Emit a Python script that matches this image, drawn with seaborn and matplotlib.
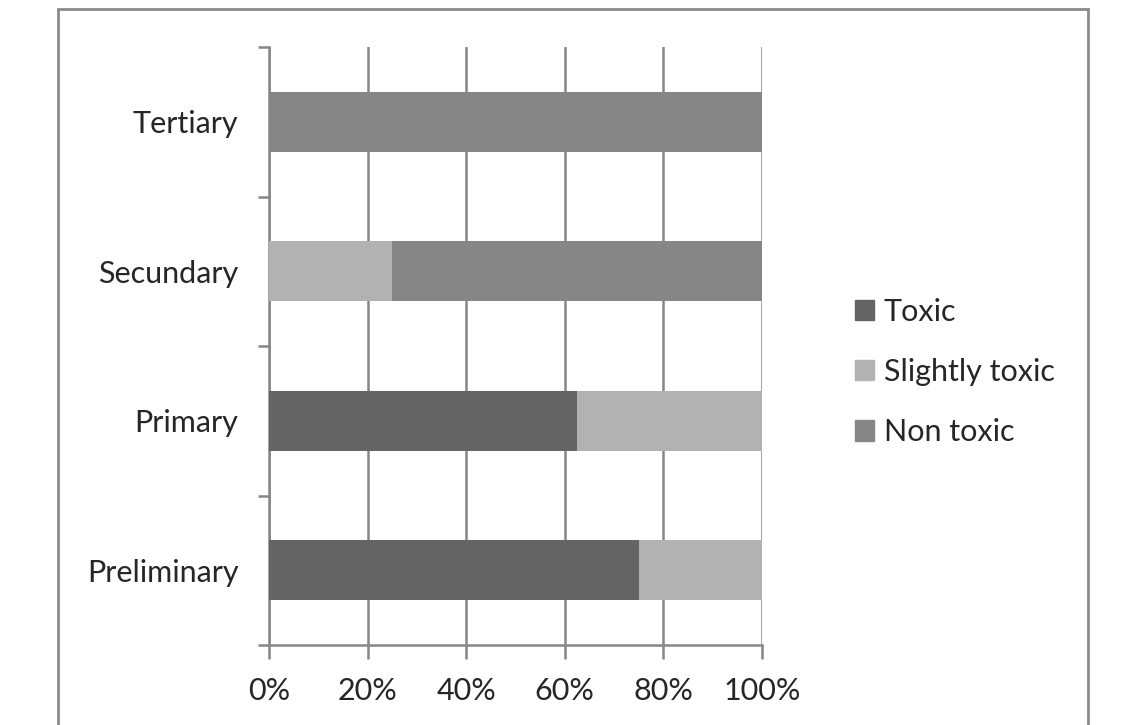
import pandas as pd
import matplotlib.pyplot as plt
import matplotlib.patches as mpatches
import seaborn as sns
import numpy as np

# data (percent of samples per stage)
stages = ["Tertiary", "Secundary", "Primary", "Preliminary"]
toxic = [0, 0, 62.5, 75]
slightly_toxic = [0, 25, 37.5, 25]
non_toxic = [100, 75, 0, 0]
series_names = ["Toxic", "Slightly toxic", "Non toxic"]
series_colors = ["#646464", "#b2b2b2", "#868686"]
xtick_labels = ["0%", "20%", "40%", "60%", "80%", "100%"]

sns.set_style("white")
plt.rcParams['font.family'] = ['Lato', 'DejaVu Sans']
FS = 22

df = pd.DataFrame({"stage": stages, "Toxic": toxic,
                   "Slightly toxic": slightly_toxic, "Non toxic": non_toxic})
df["c1"] = df["Toxic"]
df["c2"] = df["c1"] + df["Slightly toxic"]
df["c3"] = df["c2"] + df["Non toxic"]

fig = plt.figure(figsize=(11.35, 7.25), dpi=100)
ax = fig.add_axes([269 / 1135, 1 - 645 / 725, (762 - 269) / 1135, (645 - 47) / 725])

# stacked: draw cumulative totals back to front
for col, color in zip(["c3", "c2", "c1"], series_colors[::-1]):
    sns.barplot(data=df, y="stage", x=col, order=stages, orient="h",
                color=color, width=0.4, saturation=1, linewidth=0, ax=ax, zorder=3)

gray = "#878787"
ax.set_xlim(0, 100)
ax.set_ylim(len(stages) - 0.5, -0.5)
ax.set_xticks(np.arange(0, 101, 20))
ax.set_xticklabels(xtick_labels)
ax.set_xlabel("")
ax.set_ylabel("")
ax.grid(axis="x", color=gray, linewidth=1.8, zorder=0)
ax.set_axisbelow(True)

# category ticks sit on the boundaries
ax.set_yticks(np.arange(len(stages)))
ax.set_yticklabels(stages)
ax.set_yticks(np.arange(-0.5, len(stages), 1), minor=True)
ax.tick_params(axis="y", which="major", length=0, pad=22, labelsize=FS)
ax.tick_params(axis="y", which="minor", length=8, width=1.8, color=gray, left=True)
ax.tick_params(axis="x", length=10, width=1.8, color=gray, pad=13, labelsize=FS, bottom=True)

for s in ["top", "right"]:
    ax.spines[s].set_visible(False)
for s in ["left", "bottom"]:
    ax.spines[s].set_color(gray)
    ax.spines[s].set_linewidth(1.8)

handles = [mpatches.Patch(color=c, label=n) for n, c in zip(series_names, series_colors)]
fig.legend(handles=handles, loc="center left", bbox_to_anchor=(827 / 1135, 1 - 372 / 725),
           frameon=False, fontsize=FS, handlelength=0.65, handleheight=0.65,
           handletextpad=0.3, labelspacing=1.05)

# outer chart border
border = mpatches.Rectangle((58 / 1135, -0.05), (1088 - 58) / 1135, 1.05 - 9 / 725,
                            transform=fig.transFigure, fill=False,
                            edgecolor="#8a8a8a", linewidth=2)
fig.patches.append(border)

plt.savefig("out.png", dpi=100)
